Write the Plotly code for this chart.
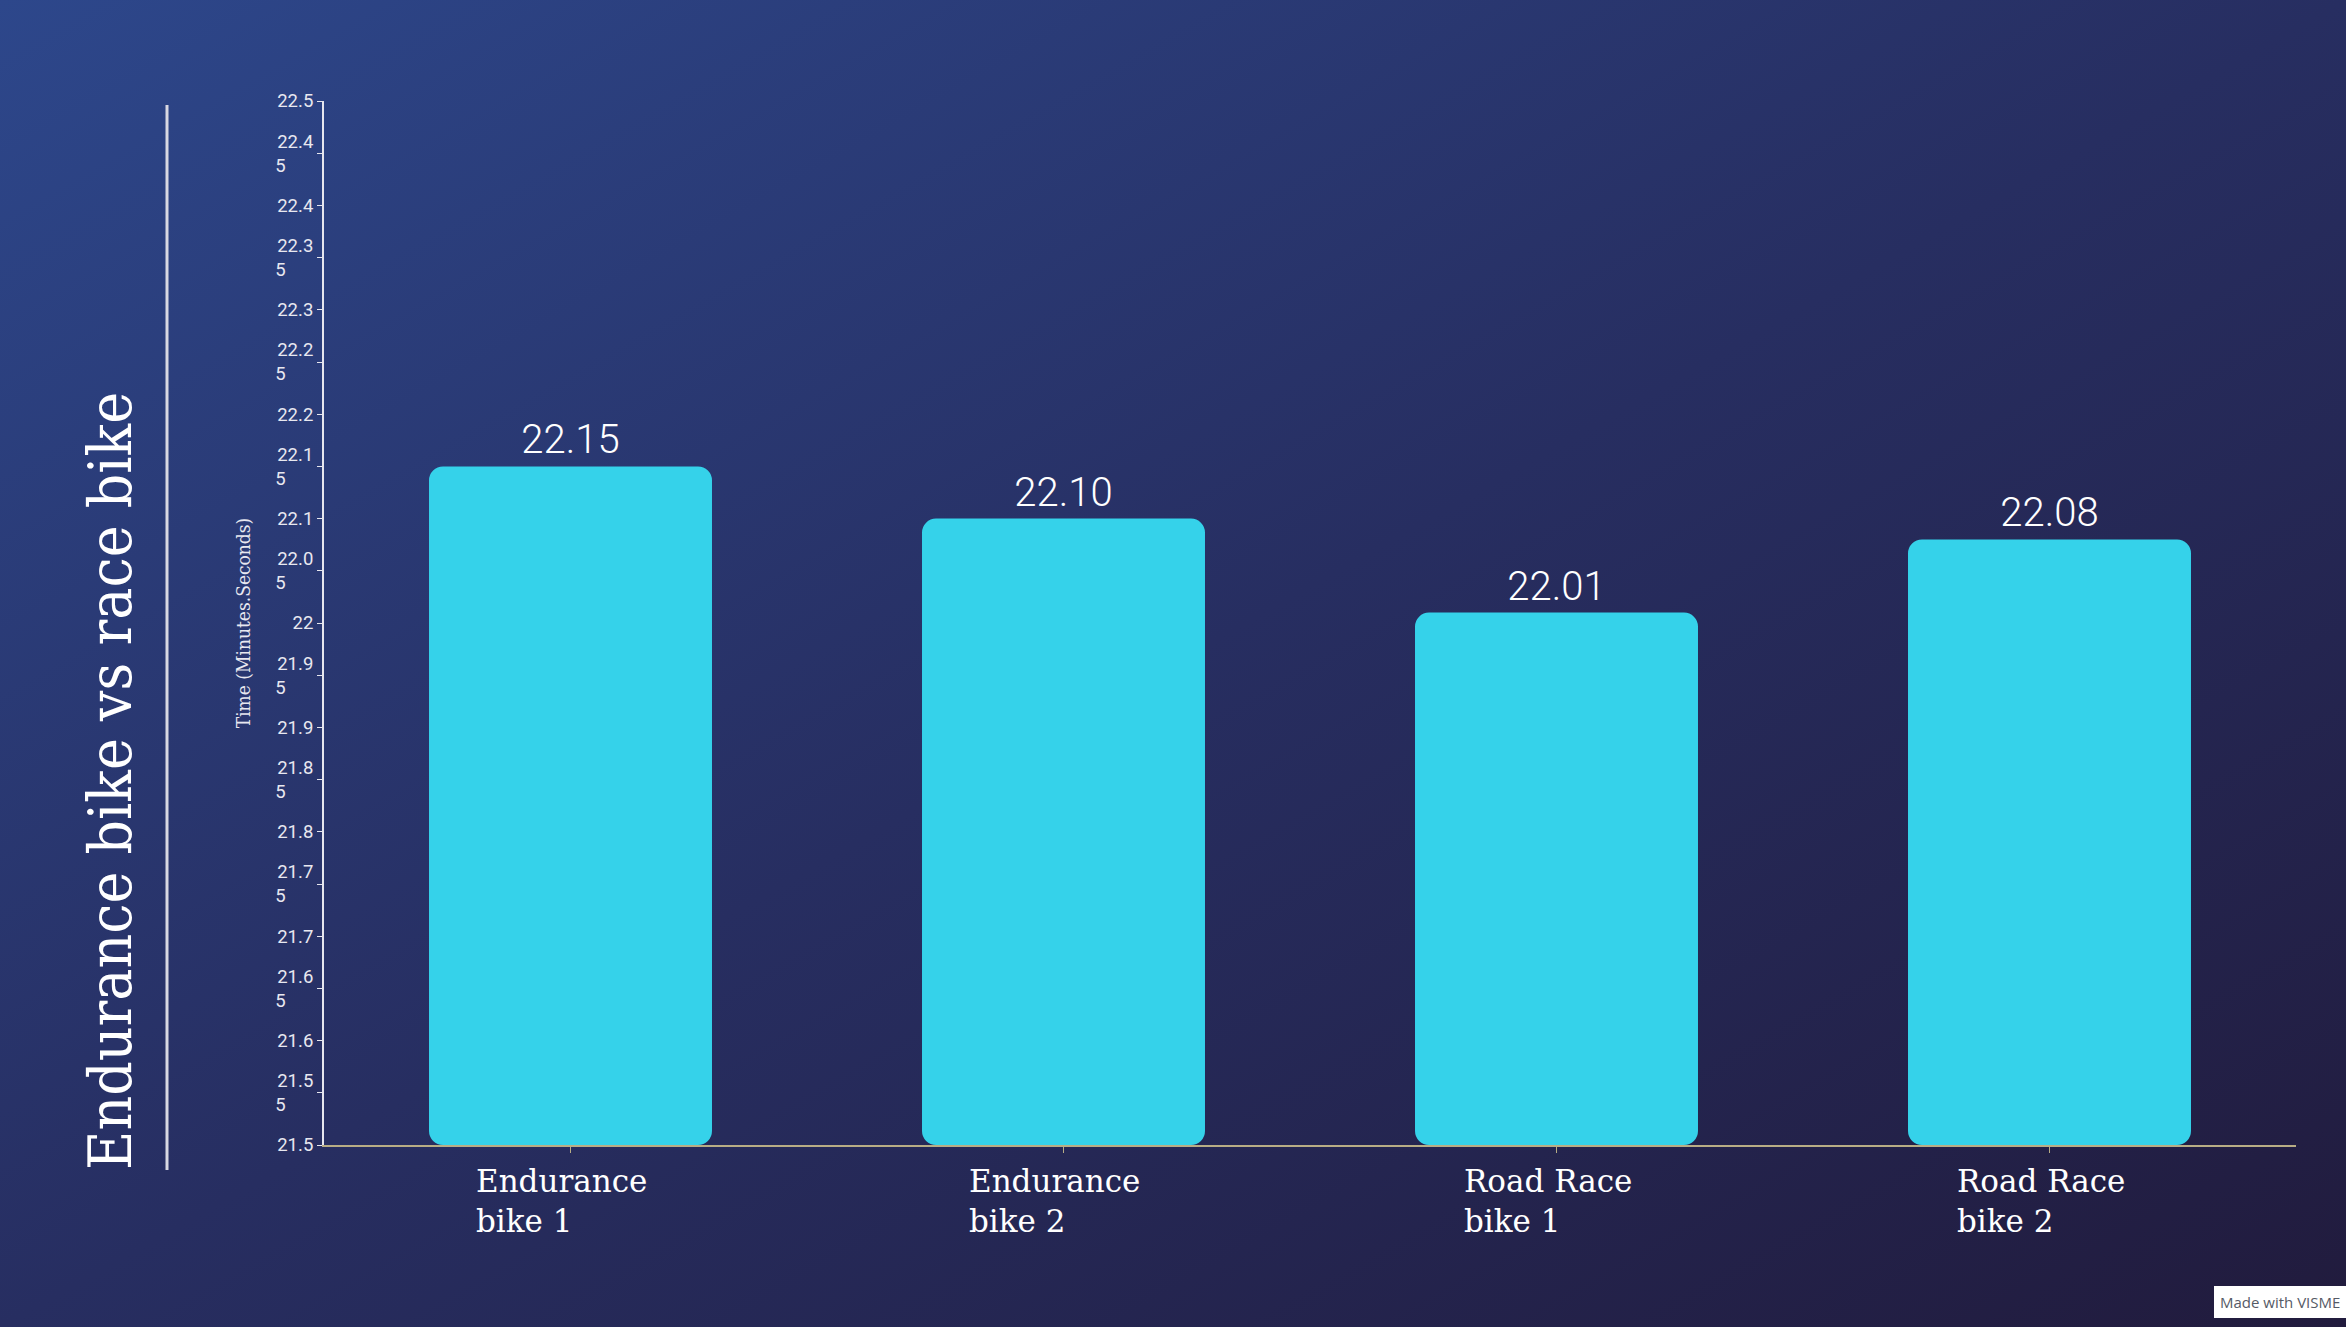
import plotly.graph_objects as go
import base64

# ---- data ----
categories = ["Endurance bike 1", "Endurance bike 2", "Road Race bike 1", "Road Race bike 2"]
category_labels = ["Endurance<br>bike 1", "Endurance<br>bike 2", "Road Race<br>bike 1", "Road Race<br>bike 2"]
times = [22.15, 22.10, 22.01, 22.08]
value_labels = ["22.15", "22.10", "22.01", "22.08"]
y_tick_vals = [21.5, 21.55, 21.6, 21.65, 21.7, 21.75, 21.8, 21.85, 21.9, 21.95,
               22.0, 22.05, 22.1, 22.15, 22.2, 22.25, 22.3, 22.35, 22.4, 22.45, 22.5]
y_tick_first = ["21.5", "21.5", "21.6", "21.6", "21.7", "21.7", "21.8", "21.8", "21.9", "21.9",
                "22", "22.0", "22.1", "22.1", "22.2", "22.2", "22.3", "22.3", "22.4", "22.4", "22.5"]
y_tick_second = ["", "5", "", "5", "", "5", "", "5", "", "5",
                 "", "5", "", "5", "", "5", "", "5", "", "5", ""]
title_text = "Endurance bike vs race bike"
y_title = "Time (Minutes.Seconds)"
y_base = 21.5

PAD = "&nbsp;" * 6
y_tick_text = [a if not b else a + "<br>" + b + PAD for a, b in zip(y_tick_first, y_tick_second)]

W, H = 2346, 1327
ML, MR, MT, MB = 324, 50, 101, 182
PW, PH = W - ML - MR, H - MT - MB


def px(x):
    return (x - ML) / PW


def py(y):
    return 1 - (y - MT) / PH


# gradient background as svg image
svg = f'''<svg xmlns="http://www.w3.org/2000/svg" width="{W}" height="{H}" viewBox="0 0 {W} {H}" preserveAspectRatio="none">
<defs><linearGradient id="g" x1="0" y1="0" x2="1" y2="1">
<stop offset="0" stop-color="#2d478b"/>
<stop offset="0.5" stop-color="#272e61"/>
<stop offset="1" stop-color="#211b3d"/>
</linearGradient></defs>
<rect width="{W}" height="{H}" fill="url(#g)"/></svg>'''
svg_uri = "data:image/svg+xml;base64," + base64.b64encode(svg.encode()).decode()

fig = go.Figure()
fig.add_trace(go.Bar(
    x=categories, y=[t - y_base for t in times],
    base=y_base,
    marker=dict(color="#35d2ea", cornerradius=14, line=dict(width=0)),
    text=value_labels, textposition="outside", cliponaxis=False,
    textfont=dict(family="Roboto", size=40, color="#ffffff", weight=300),
    hoverinfo="skip",
))

fig.update_layout(
    width=W, height=H,
    margin=dict(l=ML, r=MR, t=MT, b=MB),
    paper_bgcolor="#262a58",
    plot_bgcolor="rgba(0,0,0,0)",
    bargap=0.426,
    showlegend=False,
    images=[dict(source=svg_uri, xref="paper", yref="paper", x=px(0), y=py(0),
                 sizex=W / PW, sizey=H / PH, xanchor="left", yanchor="top",
                 sizing="stretch", layer="below")],
    xaxis=dict(
        showgrid=False, zeroline=False,
        showline=True, linecolor="#b8ad85", linewidth=2,
        ticks="outside", ticklen=6, tickcolor="#b8ad85", tickwidth=1,
        showticklabels=False,
    ),
    yaxis=dict(
        range=[21.5, 22.5], showgrid=False, zeroline=False,
        showline=True, linecolor="#e6e6ee", linewidth=2,
        ticks="outside", ticklen=5, tickcolor="#e6e6ee", tickwidth=1,
        tickvals=y_tick_vals, ticktext=y_tick_text,
        tickfont=dict(family="Roboto", size=18.5, color="#e8e8f0"),
        title=dict(text=y_title, standoff=20,
                   font=dict(family="DejaVu Serif Condensed", size=19, color="#e8e8f0")),
    ),
)

# category labels under the axis, block-centred, left-aligned lines
for c, lab in zip(categories, category_labels):
    fig.add_annotation(x=c, y=0, xref="x", yref="paper", yshift=-16, xshift=-9,
                       text=lab, showarrow=False, xanchor="center", yanchor="top", align="left",
                       font=dict(family="DejaVu Serif", size=31, color="#ffffff"))

# vertical title
fig.add_annotation(x=px(110), y=py(781), xref="paper", yref="paper", text=title_text, showarrow=False,
                   textangle=-90, font=dict(family="DejaVu Serif Condensed", size=60, color="#ffffff"),
                   xanchor="center", yanchor="middle")

# vertical divider line
fig.add_shape(type="line", xref="paper", yref="paper",
              x0=px(167), x1=px(167), y0=py(105), y1=py(1170),
              line=dict(color="#d8d8e2", width=3))

# watermark
fig.add_annotation(x=px(2346), y=py(1318), xref="paper", yref="paper",
                   text="Made with VISME", showarrow=False, xanchor="right", yanchor="bottom",
                   font=dict(family="Open Sans", size=15, color="#555a66"),
                   bgcolor="#ffffff", borderpad=6, borderwidth=0)

fig.write_html("out.html")
